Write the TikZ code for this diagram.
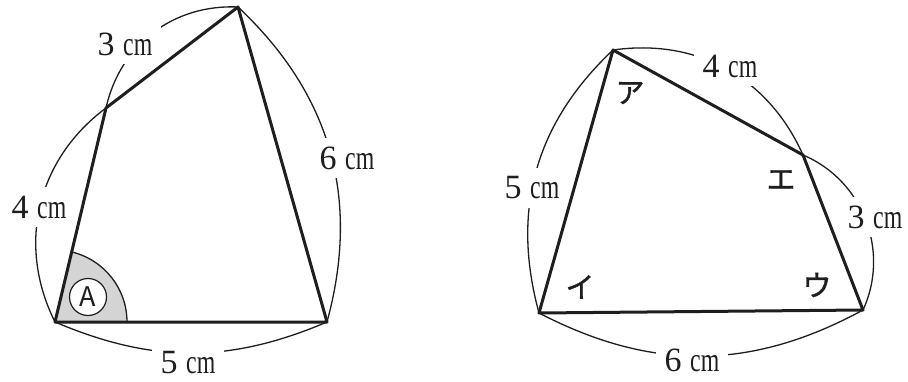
\documentclass[tikz,border=0pt]{standalone}
\usepackage{fontspec}
\usepackage{graphicx}
\usetikzlibrary{calc}
\newfontfamily\jpfont[FakeBold=1.2]{Noto Sans CJK JP}
\newfontfamily\markfont{Noto Sans CJK JP}
\newfontfamily\numfont{Liberation Serif}
\definecolor{ink}{RGB}{30,30,30}
\definecolor{sectorgray}{RGB}{212,212,212}
\newcommand\cmunit{\scalebox{0.7}[1]{cm}}
\begin{document}
\begin{tikzpicture}[x=1pt,y=1pt,
  side/.style={line width=3pt, line join=round, line cap=round, draw=ink},
  dim/.style={line width=1.3pt, draw=ink},
  lab/.style={fill=white, inner xsep=9pt, inner ysep=9pt, font=\numfont\fontsize{34}{34}\selectfont, text=ink},
  kana/.style={font=\jpfont\fontsize{29}{29}\selectfont, text=ink, inner sep=0pt}]
\useasboundingbox (0,0) rectangle (908,381);
\fill[white] (0,0) rectangle (908,381);
% ---------- left quadrilateral ----------
\coordinate (A) at (55,59);
\coordinate (B) at (327,59);
\coordinate (C) at (238,374);
\coordinate (D) at (106,273);
% angle sector
\fill[sectorgray] (A) -- ++(72,0) arc[start angle=0,end angle=76.6,radius=72] -- cycle;
\draw[dim] ($(A)+(72,0)$) arc[start angle=0,end angle=76.6,radius=72];
% dimension arcs
\draw[dim] (A) to[bend right=23] (B);
\draw[dim] (A) to[bend left=40] (D);
\draw[dim] (D) to[bend left=40] (C);
\draw[dim] (C) to[bend left=31] (B);
\node[lab] (lAB) at (188,18) {5 \cmunit};
\node[lab] (lAD) at (39,174) {4 \cmunit};
\node[lab] (lDC) at (125,337) {3 \cmunit};
\node[lab] (lCB) at (347,223) {6 \cmunit};
\draw[side] (A) -- (B) -- (C) -- (D) -- cycle;
\node[circle, draw=ink, line width=1.2pt, fill=white, minimum size=37pt, inner sep=0pt,
      font=\markfont\fontsize{27}{27}\selectfont, text=ink] (mark) at (88,84) {A};
% ---------- right quadrilateral ----------
\coordinate (P) at (613,331);
\coordinate (I) at (539,68);
\coordinate (U) at (863,71);
\coordinate (E) at (803,226);
\draw[dim] (P) to[bend right=31] (I);
\draw[dim] (P) to[bend left=37] (E);
\draw[dim] (E) to[bend left=46] (U);
\draw[dim] (I) to[bend right=28] (U);
\node[lab] (lPI) at (532,193) {5 \cmunit};
\node[lab] (lPE) at (730,315) {4 \cmunit};
\node[lab] (lEU) at (875,164) {3 \cmunit};
\node[lab] (lIU) at (692,21) {6 \cmunit};
\draw[side] (P) -- (E) -- (U) -- (I) -- cycle;
\node[kana] (ka) at (630,288) {ア};
\node[kana] (ki) at (580,94) {イ};
\node[kana] (ku) at (817,96) {ウ};
\node[kana] (ke) at (781,201) {エ};
\end{tikzpicture}
\end{document}
